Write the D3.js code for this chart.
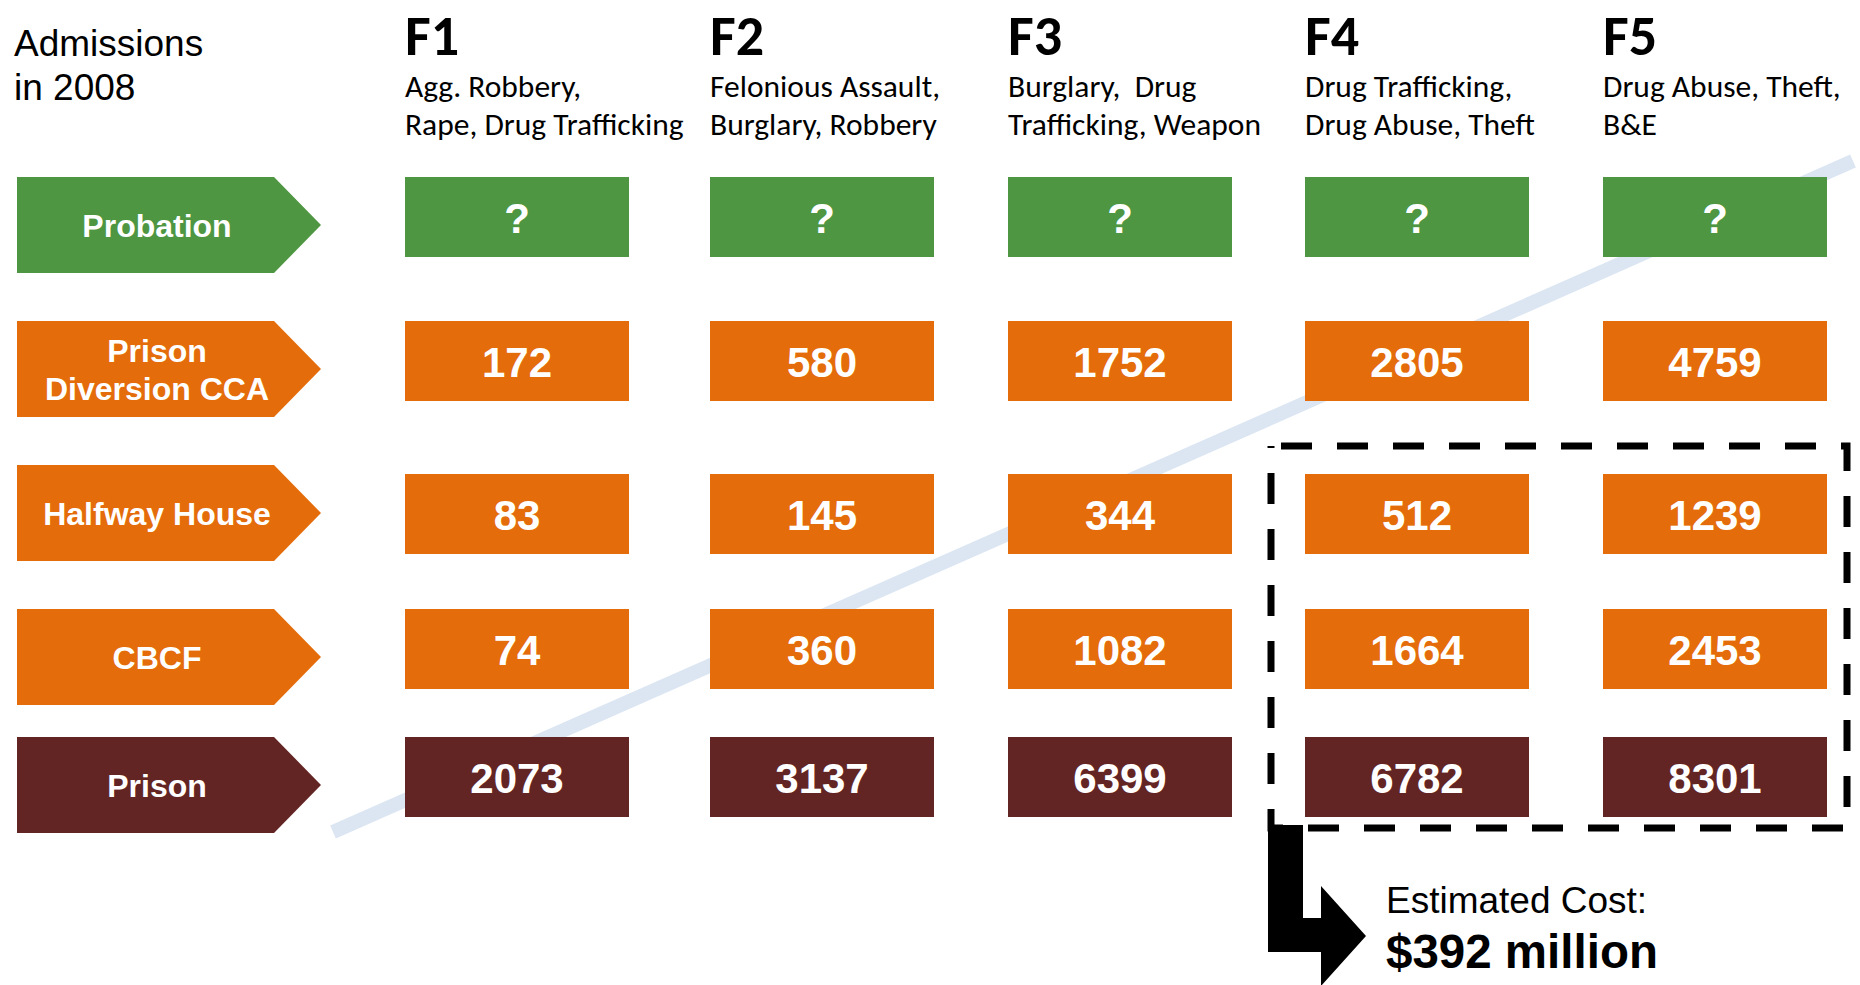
<!DOCTYPE html>
<html>
<head>
<meta charset="utf-8">
<script src="https://cdn.jsdelivr.net/npm/d3@7"></script>
<style>
  html, body { margin: 0; padding: 0; background: #ffffff; }
  svg { display: block; }
</style>
</head>
<body>
<svg id="chart" width="1860" height="985"></svg>
<script>
// ---------------- data ----------------
const categories = ["F1", "F2", "F3", "F4", "F5"];
const offenseLines = [
  ["Agg. Robbery,", "Rape, Drug Trafficking"],
  ["Felonious Assault,", "Burglary, Robbery"],
  ["Burglary,  Drug", "Trafficking, Weapon"],
  ["Drug Trafficking,", "Drug Abuse, Theft"],
  ["Drug Abuse, Theft,", "B&E"]
];
const sanctions = ["Probation", "Prison Diversion CCA", "Halfway House", "CBCF", "Prison"];
const sanctionLabelLines = [["Probation"], ["Prison", "Diversion CCA"], ["Halfway House"], ["CBCF"], ["Prison"]];
const probation       = [null, null, null, null, null];   // unknown -> "?"
const prisonDiversion = [172, 580, 1752, 2805, 4759];
const halfwayHouse    = [83, 145, 344, 512, 1239];
const cbcf            = [74, 360, 1082, 1664, 2453];
const prison          = [2073, 3137, 6399, 6782, 8301];
const seriesValues = [probation, prisonDiversion, halfwayHouse, cbcf, prison];
const highlighted = ["F4", "F5"];
const titleLines = ["Admissions", "in 2008"];
const costLabel = "Estimated Cost:";
const costValue = "$392 million";

// ---------------- styles / layout ----------------
const GREEN = "#4e9641", ORANGE = "#e46c0a", MAROON = "#632523", LIGHTBLUE = "#dce6f2";
const rowColor = d3.scaleOrdinal().domain(sanctions).range([GREEN, ORANGE, ORANGE, ORANGE, MAROON]);

const xCol = d3.scaleOrdinal().domain(categories).range([405, 710, 1008, 1305, 1603]);
const boxW = 224, boxH = 80;
const yRow = d3.scaleOrdinal().domain(sanctions).range([177, 321, 465, 609, 737]);     // arrow tops
const yBox = d3.scaleOrdinal().domain(sanctions).range([177, 321, 474, 609, 737]);     // box tops
const arrowH = 96, arrowX0 = 17, arrowNotch = 274, arrowTip = 321;

const svg = d3.select("#chart");
const sans = "'Liberation Sans', Arial, Helvetica, sans-serif";
const calib = "Carlito, Calibri, Lato, 'Open Sans', sans-serif";

// diagonal light-blue band (behind everything)
svg.append("line")
  .attr("x1", 333).attr("y1", 832).attr("x2", 1853).attr("y2", 161)
  .attr("stroke", LIGHTBLUE).attr("stroke-width", 14).attr("stroke-linecap", "butt");

// title
svg.append("text")
  .attr("x", 14).attr("y", 56)
  .attr("font-family", sans).attr("font-size", 37).attr("fill", "#000")
  .selectAll("tspan").data(titleLines).join("tspan")
  .attr("x", 14).attr("dy", (d, i) => i === 0 ? 0 : 44).text(d => d);

// column headers
const hdr = svg.append("g").selectAll("g").data(categories).join("g")
  .attr("transform", d => `translate(${xCol(d)},0)`);
hdr.append("text")
  .attr("x", 0).attr("y", 55)
  .attr("font-family", calib).attr("font-weight", 900).attr("font-size", 56)
  .attr("fill", "#000").text(d => d);
hdr.each(function(d, i) {
  d3.select(this).selectAll("text.sub").data(offenseLines[i]).join("text")
    .attr("class", "sub")
    .attr("x", 0).attr("y", (t, j) => 97 + j * 38)
    .attr("font-family", calib).attr("font-size", 31.5).attr("fill", "#000")
    .attr("xml:space", "preserve")
    .style("white-space", "pre")
    .text(t => t);
});

// row arrows
const rowG = svg.append("g").selectAll("g").data(sanctions).join("g");
rowG.append("polygon")
  .attr("points", d => {
    const t = yRow(d), b = t + arrowH, m = t + arrowH / 2;
    return [[arrowX0, t], [arrowNotch, t], [arrowTip, m], [arrowNotch, b], [arrowX0, b]].join(" ");
  })
  .attr("fill", d => rowColor(d));
rowG.each(function(d, i) {
  const lines = sanctionLabelLines[i];
  const mid = yRow(d) + arrowH / 2;
  const lh = 38;
  d3.select(this).selectAll("text").data(lines).join("text")
    .attr("x", 157)
    .attr("y", (t, j) => mid + 11.5 + (j - (lines.length - 1) / 2) * lh)
    .attr("text-anchor", "middle")
    .attr("font-family", sans).attr("font-weight", "bold").attr("font-size", 32)
    .attr("fill", "#fff").text(t => t);
});

// value boxes
const cells = [];
sanctions.forEach((s, i) => categories.forEach((c, j) => cells.push({ s, c, v: seriesValues[i][j] })));
const cellG = svg.append("g").selectAll("g").data(cells).join("g")
  .attr("transform", d => `translate(${xCol(d.c)},${yBox(d.s)})`);
cellG.append("rect")
  .attr("width", boxW).attr("height", boxH)
  .attr("fill", d => rowColor(d.s));
cellG.append("text")
  .attr("x", boxW / 2).attr("y", boxH / 2 + 15.5)
  .attr("text-anchor", "middle")
  .attr("font-family", sans).attr("font-weight", "bold").attr("font-size", 42)
  .attr("fill", "#fff")
  .text(d => d.v == null ? "?" : d.v);

// dashed highlight rectangle around F4/F5 lower rows
const hx0 = xCol(highlighted[0]) - 34, hx1 = xCol(highlighted[1]) + boxW + 20;
const hy0 = yBox("Halfway House") - 28, hy1 = yBox("Prison") + boxH + 11;
svg.append("rect")
  .attr("x", hx0).attr("y", hy0).attr("width", hx1 - hx0).attr("height", hy1 - hy0)
  .attr("fill", "none").attr("stroke", "#000").attr("stroke-width", 7)
  .attr("stroke-dasharray", "31,25").attr("stroke-dashoffset", -10);

// elbow arrow
const sx0 = hx0 - 3, sx1 = hx0 + 32, shaftT = 918, shaftB = 952, headX = 1321, headT = 886, headB = 986, tipX = 1366;
svg.append("polygon")
  .attr("points", [[sx0, hy1 - 3], [sx1, hy1 - 3], [sx1, shaftT], [headX, shaftT], [headX, headT],
                   [tipX, (headT + headB) / 2], [headX, headB], [headX, shaftB], [sx0, shaftB]].join(" "))
  .attr("fill", "#000");

// cost text
svg.append("text").attr("x", 1386).attr("y", 913)
  .attr("font-family", sans).attr("font-size", 37).attr("fill", "#000").text(costLabel);
svg.append("text").attr("x", 1386).attr("y", 968)
  .attr("font-family", sans).attr("font-weight", "bold").attr("font-size", 47.5).attr("fill", "#000").text(costValue);
</script>
</body>
</html>
